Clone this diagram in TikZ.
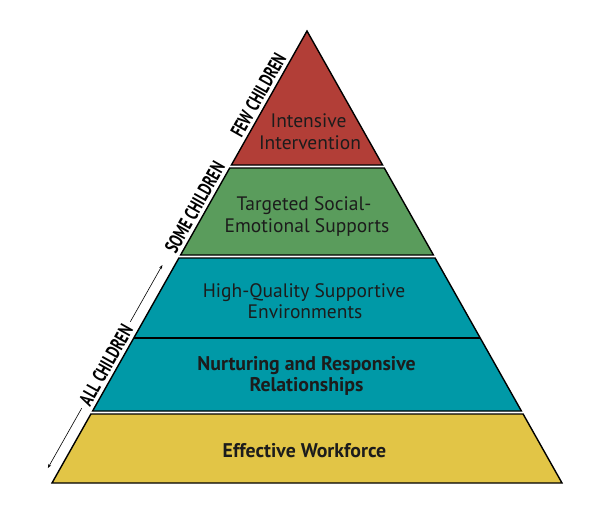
\documentclass[tikz,border=0pt]{standalone}
\usepackage{fontspec}
\setmainfont{PT Sans}
\newfontfamily\condfont{PT Sans}[FakeStretch=0.72]
\usetikzlibrary{arrows.meta}
\definecolor{bandred}{RGB}{178,62,55}
\definecolor{bandgreen}{RGB}{90,156,92}
\definecolor{bandteal}{RGB}{0,153,167}
\definecolor{bandyellow}{RGB}{226,197,70}
\definecolor{textdark}{RGB}{28,28,28}
\begin{document}
\begin{tikzpicture}[x=1pt,y=-1pt,
  band/.style={draw=black,line width=1.4pt,line join=miter},
  lbl/.style={font=\fontsize{19.5}{22}\selectfont,text=textdark,anchor=base,inner sep=0pt},
  blbl/.style={lbl,font=\fontsize{19.8}{22}\selectfont\bfseries},
  side/.style={rotate=60.67,font=\condfont\fontsize{19.5}{19.5}\selectfont\bfseries,inner sep=2pt},
  arr/.style={line width=0.6pt,-{Stealth[length=4pt,width=3pt]},shorten <=3pt}]
\useasboundingbox (0,0) rectangle (605,504);
\fill[white] (0,0) rectangle (605,504);
% bands
\draw[band,fill=bandred] (307,31) -- (382.6,165) -- (231.4,165) -- cycle;
\draw[band,fill=bandgreen] (229.7,168) -- (384.3,168) -- (433.4,255) -- (180.6,255) -- cycle;
\draw[band,fill=bandteal] (178.9,258) -- (435.1,258) -- (521.4,411) -- (92.6,411) -- cycle;
\draw[band] (133.8,338) -- (480.2,338);
\draw[band,fill=bandyellow] (90.9,414) -- (523.1,414) -- (562,483) -- (52,483) -- cycle;
% texts
\node[lbl] (int1) at (308.5,127) {Intensive};
\node[lbl] (int2) at (310,149) {Intervention};
\node[lbl] (tar1) at (304,210) {Targeted Social-};
\node[lbl] (tar2) at (307,232) {Emotional Supports};
\node[lbl] (hq1) at (304,297) {High-Quality Supportive};
\node[lbl] (hq2) at (305,318) {Environments};
\node[blbl] (nur1) at (306.5,370) {Nurturing and Responsive};
\node[blbl] (nur2) at (306.5,391) {Relationships};
\node[blbl] (eff) at (304.5,457) {Effective Workforce};
% side labels
\node[side] (few) at (258.3,95) {FEW CHILDREN};
\node[side] (some) at (194.8,207.5) {SOME CHILDREN};
\node[side] (all) at (106,365) {ALL CHILDREN};
\coordinate (atop) at (162.4,265);
\coordinate (abot) at (47.9,468);
\draw[arr] (all.east) -- (atop);
\draw[arr] (all.west) -- (abot);
\end{tikzpicture}
\end{document}
